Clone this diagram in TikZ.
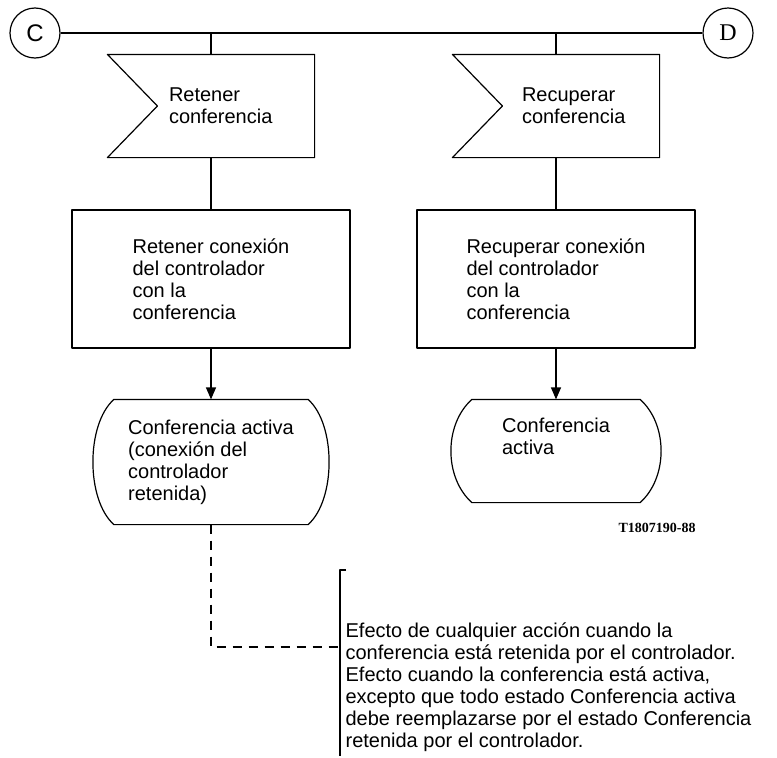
\documentclass[tikz,border=0pt]{standalone}
\usepackage{fontspec}
\setmainfont{Liberation Sans}
\newfontfamily\dserif{Liberation Serif}
\usetikzlibrary{arrows.meta,calc}

\begin{document}
\begin{tikzpicture}[x=1pt, y=-1pt, line width=1.2pt, line join=round,
        font=\fontsize{20}{22}\selectfont,
        >={Triangle[length=12pt,width=10pt]},
        conn/.style={circle, draw, minimum size=50pt, inner sep=0pt, font=\fontsize{24}{24}\selectfont},
        sig/.style={minimum width=206pt, minimum height=102pt, align=left, inner sep=0pt,
                execute at begin node={\hyphenpenalty=10000}},
        task/.style={draw, rectangle, minimum width=278pt, minimum height=138pt, align=left},
        state/.style={align=left, inner sep=0pt},
        linkdash/.style={dash pattern=on 9pt off 7pt}]
        \useasboundingbox (0,0) rectangle (777,758);

        % connectors
        \node[conn] (C) at (35,33) {C};
        \node[conn, font=\dserif\fontsize{24}{24}\selectfont] (D) at (728,33) {D};
        \draw (C) -- (D);

        % input signals
        \node[sig, text width=84pt] (sigL) at (211,106) {Retener\\conferencia};
        \node[sig, text width=68pt] (sigR) at (556,106) {Recuperar\\conferencia};
        \draw (sigL.north west) -- (sigL.north east) -- (sigL.south east) -- (sigL.south west) -- ($(sigL.west)+(50,0)$) -- cycle;
        \draw (sigR.north west) -- (sigR.north east) -- (sigR.south east) -- (sigR.south west) -- ($(sigR.west)+(50,0)$) -- cycle;
        \draw (sigL.north) -- (sigL.north |- C);
        \draw (sigR.north) -- (sigR.north |- D);

        % tasks
        \node[task] (boxL) at (211,279) {Retener conexión\\del controlador\\con la\\conferencia};
        \node[task] (boxR) at (556,279) {Recuperar conexión\\del controlador\\con la\\conferencia};
        \draw (sigL.south) -- (boxL.north);
        \draw (sigR.south) -- (boxR.north);

        % states
        \node[state, minimum width=193pt, minimum height=124pt] (stL) at (211,462) {Conferencia activa\\(conexión del\\controlador\\retenida)};
        \node[state, minimum width=167pt, minimum height=102pt] (stR) at (556,451) {\raisebox{12pt}[\height][\depth]{\begin{tabular}{@{}l@{}}Conferencia\\activa\end{tabular}}};
        \draw (stL.north west) -- (stL.north east) .. controls +(28,25) and +(28,-25) .. (stL.south east) -- (stL.south west) .. controls +(-28,-25) and +(-28,25) .. (stL.north west) -- cycle;
        \draw (stR.north west) -- (stR.north east) .. controls +(28,25) and +(28,-25) .. (stR.south east) -- (stR.south west) .. controls +(-28,-25) and +(-28,25) .. (stR.north west) -- cycle;
        \draw[->] (boxL.south) -- (stL.north);
        \draw[->] (boxR.south) -- (stR.north);

        \node[font=\dserif\bfseries\fontsize{14}{14}\selectfont] (tag) at (657,528) {T1807190-88};

        % comment
        \coordinate (brTop) at (340,570);
        \coordinate (brBot) at (340,756);
        \coordinate (brMid) at (340,647);
        \draw ($(brTop)+(6,0)$) -- (brTop) -- (brBot);
        \node[anchor=west, align=left, inner sep=0pt] (note) at (345,687) {Efecto de cualquier acción cuando la\\conferencia está retenida por el controlador.\\Efecto cuando la conferencia está activa,\\excepto que todo estado Conferencia activa\\debe reemplazarse por el estado Conferencia\\retenida por el controlador.};
        \draw[linkdash] (stL.south) |- (brMid);
\end{tikzpicture}
\end{document}
